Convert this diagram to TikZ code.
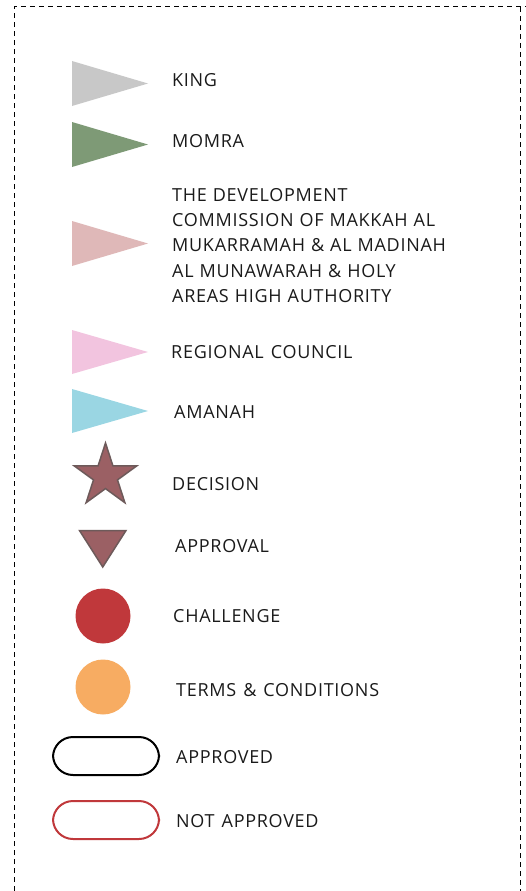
\documentclass[tikz,border=0pt]{standalone}
\usepackage{fontspec}
\setmainfont[LetterSpace=4,WordSpace=1.3]{Open Sans}
\usetikzlibrary{shapes.geometric}
\definecolor{kinggray}{HTML}{C8C8C8}
\definecolor{momragreen}{HTML}{7E9A76}
\definecolor{commpink}{HTML}{DFB8B8}
\definecolor{regpink}{HTML}{F2C4DF}
\definecolor{amanahblue}{HTML}{9AD6E3}
\definecolor{decfill}{HTML}{9B6064}
\definecolor{decborder}{HTML}{6D5A5A}
\definecolor{chalred}{HTML}{C0383B}
\definecolor{termorange}{HTML}{F7AC62}
\definecolor{txt}{HTML}{1A1A1A}
\begin{document}
\begin{tikzpicture}[x=1pt,y=-1pt,
  lbl/.style={anchor=base west,inner sep=0pt,text=txt,font=\fontsize{18}{25.3}\selectfont},
  pill/.style={line width=2pt,rounded corners=20pt},
  frame/.style={dash pattern=on 5pt off 4pt,line width=1pt}
]
\useasboundingbox (0,0) rectangle (526,891);
% dashed frame (open at bottom)
\draw[frame] (14,891) -- (14,7) -- (526,7);
\draw[frame] (520,7) -- (520,891);

% flags
\fill[kinggray] (72,61) -- (148,83.5) -- (72,106) -- cycle;
\fill[momragreen] (72,122) -- (148,144.5) -- (72,167) -- cycle;
\fill[commpink] (72,221) -- (148,243.5) -- (72,266) -- cycle;
\fill[regpink] (72,330) -- (148,352) -- (72,374) -- cycle;
\fill[amanahblue] (72,389) -- (148,411) -- (72,433) -- cycle;

% decision star
\node[star,star points=5,star point ratio=2.618,minimum size=66pt,inner sep=0pt,
  fill=decfill,draw=decborder,line width=1.5pt] (dec) at (105.5,476) {};
% approval triangle
\draw[fill=decfill,draw=decborder,line width=1.5pt] (79.5,530.5) -- (126,530.5) -- (102.75,567) -- cycle;
% challenge & terms circles
\fill[chalred] (103,616) circle (27.5);
\fill[termorange] (103,687) circle (27.5);
% pills
\draw[pill,draw=black] (53,737) rectangle (159,775);
\draw[pill,draw=chalred] (53,801) rectangle (159,839);

% labels
\node[lbl] (king) at (172,86) {KING};
\node[lbl] (momra) at (172,147) {MOMRA};
\node[lbl,anchor=north west,text width=330pt,align=left] (comm) at (172,188)
  {THE DEVELOPMENT\\COMMISSION OF MAKKAH AL\\MUKARRAMAH \& AL MADINAH\\AL MUNAWARAH \& HOLY\\AREAS HIGH AUTHORITY};
\node[lbl] (reg) at (171,358) {REGIONAL COUNCIL};
\node[lbl] (amanah) at (174,418) {AMANAH};
\node[lbl] (decl) at (172,490) {DECISION};
\node[lbl] (appr) at (175,552) {APPROVAL};
\node[lbl] (chal) at (173,622) {CHALLENGE};
\node[lbl] (terms) at (176,696) {TERMS \& CONDITIONS};
\node[lbl] (approved) at (176,763) {APPROVED};
\node[lbl] (notappr) at (176,827) {NOT APPROVED};
\end{tikzpicture}
\end{document}
